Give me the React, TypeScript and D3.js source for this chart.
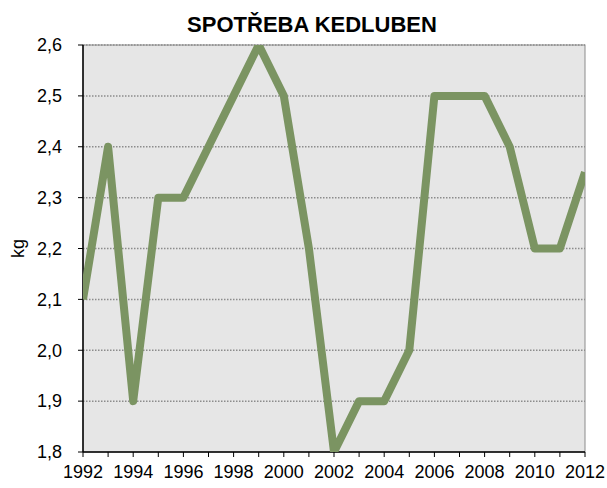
import React from "react";
import * as d3 from "d3";

const years = [1992,1993,1994,1995,1996,1997,1998,1999,2000,2001,2002,2003,2004,2005,2006,2007,2008,2009,2010,2011,2012];
const values = [2.1,2.4,1.9,2.3,2.3,2.4,2.5,2.6,2.5,2.2,1.8,1.9,1.9,2.0,2.5,2.5,2.5,2.4,2.2,2.2,2.35];
const yTicks = [1.8,1.9,2.0,2.1,2.2,2.3,2.4,2.5,2.6];
const xLabels = [1992,1994,1996,1998,2000,2002,2004,2006,2008,2010,2012];
const title = "SPOTŘEBA KEDLUBEN";
const yTitle = "kg";

export default function App() {
  const W = 607, H = 488;
  const L = 83, R = 585, T = 45, B = 452;
  const x = d3.scaleLinear().domain([1992, 2012]).range([L, R]);
  const y = d3.scaleLinear().domain([1.8, 2.6]).range([B, T]);
  const line = d3.line<number>().x((_, i) => x(years[i])).y((d) => y(d));
  const fmt = (v: number) => v.toFixed(1).replace(".", ",");
  const font = "Arial, 'Liberation Sans', sans-serif";
  return (
    <svg width={W} height={H} style={{ position: "absolute", left: 0, top: 0 }} fontFamily={font}>
      <rect x={0} y={0} width={W} height={H} fill="#fff" />
      <text x={312} y={32} textAnchor="middle" fontSize={22} fontWeight="bold">{title}</text>
      <rect x={L} y={T} width={R - L} height={B - T} fill="#e6e6e6" stroke="#8c8c8c" strokeWidth={1} />
      {yTicks.map((t) => (
        <g key={t}>
          {t > 1.8 && (
            <line x1={L} x2={R} y1={y(t)} y2={y(t)} stroke="#8c8c8c" strokeWidth={1.5} strokeDasharray="1.5 1.5" />
          )}
          <line x1={L - 5} x2={L} y1={y(t)} y2={y(t)} stroke="#000" />
          <text x={L - 21} y={y(t)} dy="0.35em" textAnchor="end" fontSize={18}>{fmt(t)}</text>
        </g>
      ))}
      {years.map((yr) => (
        <line key={yr} x1={x(yr)} x2={x(yr)} y1={B} y2={B + 5} stroke="#000" />
      ))}
      {xLabels.map((yr) => (
        <text key={yr} x={x(yr)} y={B + 26} textAnchor="middle" fontSize={18}>{yr}</text>
      ))}
      <line x1={L} x2={L} y1={T} y2={B} stroke="#000" strokeWidth={1.5} />
      <line x1={L} x2={R} y1={B} y2={B} stroke="#000" strokeWidth={1.5} />
      <text transform={`translate(24,${(T + B) / 2}) rotate(-90)`} textAnchor="middle" fontSize={18}>{yTitle}</text>
      <clipPath id="clip">
        <rect x={L} y={T} width={R - L} height={B - T} />
      </clipPath>
      <path d={line(values) || ""} fill="none" stroke="#7b9462" strokeWidth={8} strokeLinejoin="round" clipPath="url(#clip)" />
    </svg>
  );
}
